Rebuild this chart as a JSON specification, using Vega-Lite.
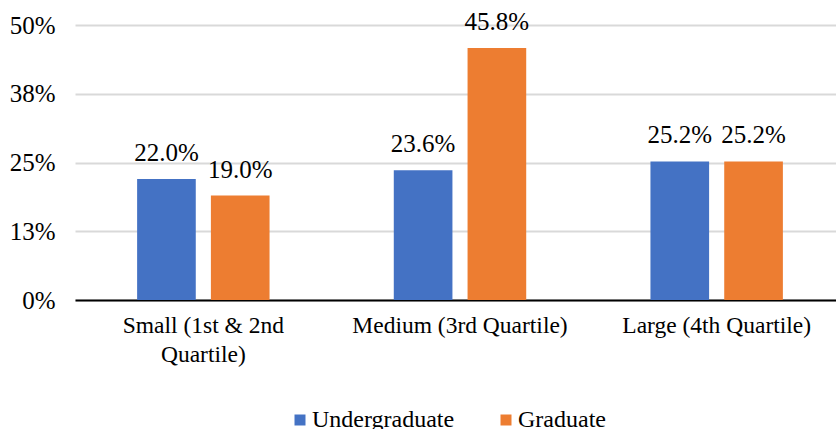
{
  "$schema": "https://vega.github.io/schema/vega-lite/v6.json",
  "autosize": {"type": "none"},
  "width": 761,
  "height": 275,
  "padding": {"left": 75, "top": 25, "right": 0, "bottom": 129},
  "background": "white",
  "config": {
    "font": "Liberation Serif",
    "view": {"stroke": null}
  },
  "data": {
    "values": [
      {"size": "Small (1st & 2nd Quartile)", "level": "Undergraduate", "share": 0.220},
      {"size": "Small (1st & 2nd Quartile)", "level": "Graduate", "share": 0.190},
      {"size": "Medium (3rd Quartile)", "level": "Undergraduate", "share": 0.236},
      {"size": "Medium (3rd Quartile)", "level": "Graduate", "share": 0.458},
      {"size": "Large (4th Quartile)", "level": "Undergraduate", "share": 0.252},
      {"size": "Large (4th Quartile)", "level": "Graduate", "share": 0.252}
    ]
  },
  "encoding": {
    "x": {
      "field": "size",
      "type": "nominal",
      "sort": ["Small (1st & 2nd Quartile)", "Medium (3rd Quartile)", "Large (4th Quartile)"],
      "scale": {"paddingInner": 0, "paddingOuter": 0, "range": [0, 770]},
      "axis": {
        "title": null,
        "labelAngle": 0,
        "labelFont": "Liberation Serif",
        "labelFontSize": 23.5,
        "labelColor": "#000000",
        "labelPadding": 13,
        "labelLineHeight": 29,
        "labelBaseline": "top",
        "labelLimit": 400,
        "labelExpr": "datum.label == 'Small (1st & 2nd Quartile)' ? ['Small (1st & 2nd', 'Quartile)'] : datum.label",
        "ticks": false,
        "domainColor": "#000000",
        "domainWidth": 2,
        "grid": false
      }
    },
    "xOffset": {
      "field": "level",
      "type": "nominal",
      "sort": ["Undergraduate", "Graduate"],
      "scale": {"paddingInner": 0.205, "paddingOuter": 0.842}
    },
    "y": {
      "field": "share",
      "type": "quantitative",
      "scale": {"domain": [0, 0.5]},
      "axis": {
        "title": null,
        "values": [0, 0.125, 0.25, 0.375, 0.5],
        "format": ".0%",
        "labelFont": "Liberation Serif",
        "labelFontSize": 25,
        "labelColor": "#000000",
        "labelPadding": 20,
        "ticks": false,
        "domain": false,
        "gridColor": "#d9d9d9",
        "gridWidth": 2
      }
    }
  },
  "layer": [
    {
      "mark": {"type": "bar"},
      "encoding": {
        "color": {
          "field": "level",
          "type": "nominal",
          "sort": ["Undergraduate", "Graduate"],
          "scale": {"domain": ["Undergraduate", "Graduate"], "range": ["#4472C4", "#ED7D31"]},
          "legend": {
            "title": null,
            "orient": "none",
            "direction": "horizontal",
            "legendX": 213,
            "legendY": 383,
            "symbolType": "square",
            "symbolSize": 121,
            "symbolStrokeWidth": 0,
            "symbolOpacity": 1,
            "labelFont": "Liberation Serif",
            "labelFontSize": 24,
            "labelColor": "#000000",
            "labelOffset": 0,
            "columnPadding": 39
          }
        }
      }
    },
    {
      "mark": {"type": "text", "baseline": "alphabetic", "dy": -18, "fontSize": 25, "color": "#000000", "font": "Liberation Serif"},
      "encoding": {
        "text": {"field": "share", "type": "quantitative", "format": ".1%"}
      }
    }
  ]
}
